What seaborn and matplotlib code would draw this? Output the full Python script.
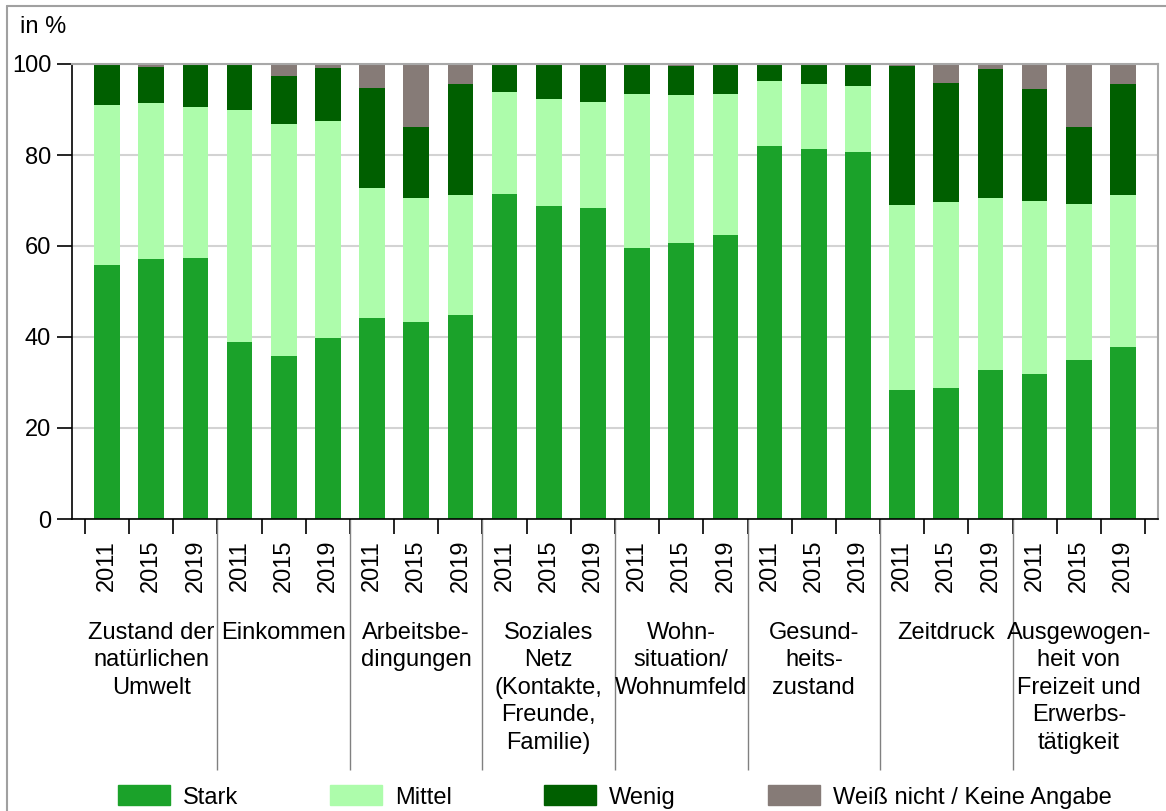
import numpy as np
import pandas as pd
import matplotlib.pyplot as plt
import seaborn as sns
from matplotlib.patches import Patch
from matplotlib.lines import Line2D

# Categories and survey years
groups = ['Zustand der\nnatürlichen\nUmwelt', 'Einkommen', 'Arbeitsbe-\ndingungen',
          'Soziales\nNetz\n(Kontakte,\nFreunde,\nFamilie)', 'Wohn-\nsituation/\nWohnumfeld',
          'Gesund-\nheits-\nzustand', 'Zeitdruck',
          'Ausgewogen-\nheit von\nFreizeit und\nErwerbs-\ntätigkeit']
years = ['2011', '2015', '2019']

# Shares in % (three years per category)
stark = [55.9, 57.1, 57.4, 39.0, 35.8, 39.7, 44.1, 43.3, 44.8, 71.4, 68.7, 68.3,
         59.5, 60.7, 62.5, 81.9, 81.4, 80.7, 28.3, 28.9, 32.8, 31.9, 34.9, 37.9]
mittel = [35.1, 34.4, 33.2, 50.9, 51.0, 47.8, 28.7, 27.2, 26.5, 22.4, 23.7, 23.3,
          33.8, 32.5, 31.0, 14.3, 14.1, 14.5, 40.8, 40.8, 37.7, 38.0, 34.3, 33.2]
wenig = [8.8, 7.8, 9.2, 10.1, 10.6, 11.6, 22.0, 15.7, 24.3, 6.2, 7.4, 8.2,
         6.7, 6.4, 6.3, 3.8, 4.3, 4.6, 30.4, 26.2, 28.5, 24.7, 17.0, 24.6]
keine = [0.2, 0.7, 0.2, 0.0, 2.6, 0.9, 5.2, 13.8, 4.4, 0.0, 0.2, 0.2,
         0.0, 0.4, 0.2, 0.0, 0.2, 0.2, 0.5, 4.1, 1.0, 5.4, 13.8, 4.3]

labels = ['Stark', 'Mittel', 'Wenig', 'Weiß nicht / Keine Angabe']
colors = ['#1ba22a', '#adfcab', '#005f00', '#867b77']

df = pd.DataFrame({'pos': range(len(stark)),
                   'year': years * len(groups),
                   'stark': stark, 'mittel': mittel, 'wenig': wenig, 'keine': keine})
# cumulative tops for the stacked bars
df['c1'] = df['stark']
df['c2'] = df['c1'] + df['mittel']
df['c3'] = df['c2'] + df['wenig']
df['c4'] = df['c3'] + df['keine']

sns.set_theme(style='white')
plt.rcParams['font.family'] = ['Liberation Sans', 'DejaVu Sans']
plt.rcParams['text.color'] = 'black'
plt.rcParams['xtick.color'] = 'black'
plt.rcParams['ytick.color'] = 'black'
fs = 17

W, H = 1166, 811
fig = plt.figure(figsize=(W / 100, H / 100), dpi=100)
ax = fig.add_axes([72 / W, 1 - 519 / H, (1158 - 72) / W, (519 - 64) / H])

# draw tallest first, then paint over
for col, c in zip(['c4', 'c3', 'c2', 'c1'], colors[::-1]):
    sns.barplot(data=df, x='pos', y=col, color=c, saturation=1, width=0.58,
                errorbar=None, ax=ax, linewidth=0)

n = len(stark)
ax.set_xlim(-0.5 - 13 / 44.17, n - 0.5 + 13 / 44.17)
ax.set_ylim(0, 100)
ax.set_yticks([0, 20, 40, 60, 80, 100])
ax.set_yticklabels(['0', '20', '40', '60', '80', '100'], fontsize=fs)
ax.yaxis.grid(True, color='#d3d3d3', lw=1.5)
ax.set_axisbelow(True)
ax.set_xlabel('')
ax.set_ylabel('')

# ticks at bar boundaries, year labels under each bar
ax.set_xticks(np.arange(-0.5, n, 1))
ax.set_xticklabels([''] * (n + 1))
ax.set_xticks(np.arange(n), minor=True)
ax.set_xticklabels(df['year'], minor=True, rotation=90, fontsize=fs)
ax.tick_params(axis='x', which='major', bottom=True, length=11, width=1.2, color='black')
ax.tick_params(axis='x', which='minor', bottom=True, length=0, pad=15, labelcolor='black')
ax.tick_params(axis='y', left=True, length=11, width=1.2, color='black', pad=4,
               labelcolor='black')

for s in ['left', 'bottom']:
    ax.spines[s].set_color('black')
    ax.spines[s].set_linewidth(1.2)
for s in ['top', 'right']:
    ax.spines[s].set_color('#a8a8a8')
    ax.spines[s].set_linewidth(1.5)

# group separators and group labels
seps = [3 * i - 0.5 for i in range(1, len(groups))]
ax.vlines(seps, -0.552, 0, transform=ax.get_xaxis_transform(), colors='#808080',
          lw=1, clip_on=False)
for i, g in enumerate(groups):
    ax.text(3 * i + 1, -0.226, g, transform=ax.get_xaxis_transform(), ha='center',
            va='top', fontsize=fs, linespacing=1.32, color='black')

fig.text(20 / W, 1 - 27 / H, 'in %', ha='left', va='center', fontsize=fs, color='black')

handles = [Patch(color=c) for c in colors]
fig.legend(handles, labels, loc='center', bbox_to_anchor=(615 / W, 1 - 797 / H),
           ncol=4, frameon=False, fontsize=fs, handlelength=2.2, handleheight=0.93,
           handletextpad=0.55, columnspacing=3.9, labelcolor='black')

# outer frame
fig.add_artist(Line2D([7 / W, 7 / W], [0, 1 - 6 / H], transform=fig.transFigure,
                      color='#a0a0a0', lw=1.5))
fig.add_artist(Line2D([7 / W, 1], [1 - 6 / H, 1 - 6 / H], transform=fig.transFigure,
                      color='#a0a0a0', lw=1.5))

fig.savefig('out.png', dpi=100)
